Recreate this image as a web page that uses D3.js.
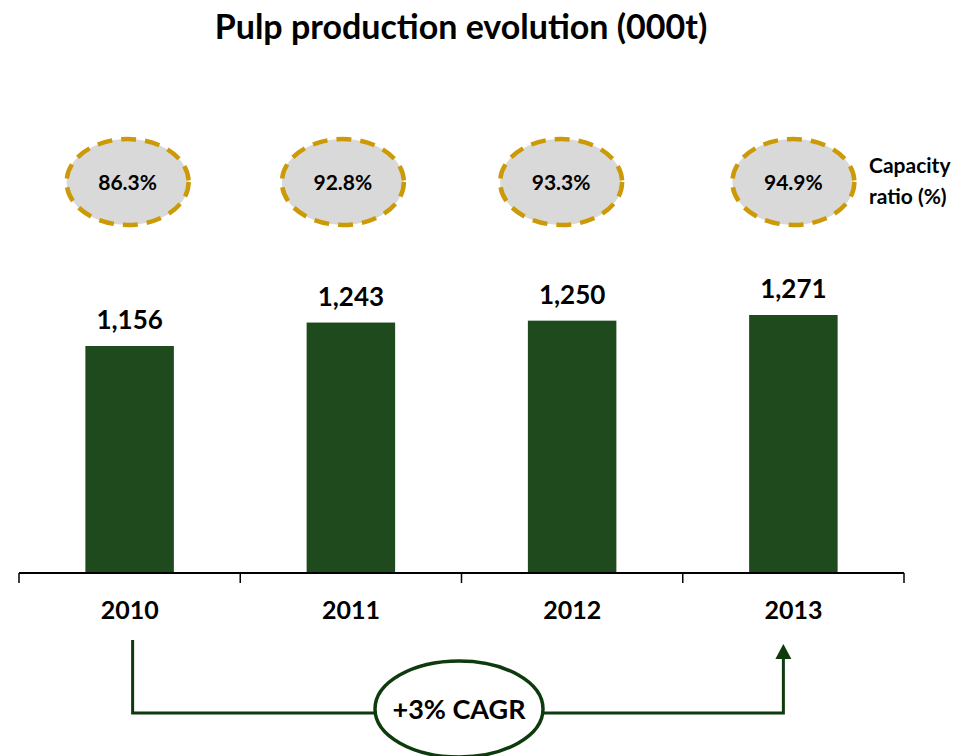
<!DOCTYPE html>
<html>
<head>
<meta charset="utf-8">
<script src="https://cdn.jsdelivr.net/npm/d3@7"></script>
<style>
  body { margin: 0; background: #fff; }
  text { font-family: Lato, "Open Sans", sans-serif; font-weight: bold; fill: #000; }
</style>
</head>
<body>
<script>
'use strict';

const years = ['2010', '2011', '2012', '2013'];
const production = [1156, 1243, 1250, 1271];
const capacityRatio = [86.3, 92.8, 93.3, 94.9];
const cagrLabel = '+3% CAGR';

(function() {
  let width = 969;
  let height = 756;
  let barColor = '#1F4A1E';
  let arrowColor = '#0D3B0D';
  let dashColor = '#CC9A06';

  let svg = d3.select('body')
    .append('svg')
    .attr('width', width)
    .attr('height', height);

  let xScale = d3.scaleBand()
    .domain(years)
    .range([19, 904])
    .paddingInner(0.6)
    .paddingOuter(0.3);
  // band boundaries for axis ticks
  let step = xScale.step();
  let axisLeft = 19;
  let center = d => xScale(d) + xScale.bandwidth() / 2;

  let yScale = d3.scaleLinear()
    .domain([314, 1271])
    .range([573, 315]);

  // title
  svg.append('text')
    .attr('x', 461)
    .attr('y', 39)
    .attr('text-anchor', 'middle')
    .style('font-size', '34px')
    .text('Pulp production evolution (000t)');

  // bars
  svg.selectAll('.bar')
    .data(years)
    .enter()
    .append('rect')
    .attr('class', 'bar')
    .attr('x', d => xScale(d))
    .attr('y', (d, i) => yScale(production[i]))
    .attr('width', xScale.bandwidth())
    .attr('height', (d, i) => yScale.range()[0] - yScale(production[i]))
    .attr('fill', barColor);

  svg.selectAll('.val')
    .data(years)
    .enter()
    .append('text')
    .attr('class', 'val')
    .attr('x', d => center(d))
    .attr('y', (d, i) => yScale(production[i]) - 17)
    .attr('text-anchor', 'middle')
    .style('font-size', '26px')
    .text((d, i) => d3.format(',')(production[i]));

  // x axis
  let xAxis = d3.axisBottom(xScale).tickSize(0).tickPadding(28);
  let gx = svg.append('g')
    .attr('transform', 'translate(0,573)')
    .call(xAxis);
  gx.select('.domain').remove();
  gx.selectAll('text')
    .style('font-size', '25px')
    .style('font-family', 'Lato, sans-serif')
    .attr('fill', '#000');
  gx.append('line')
    .attr('x1', axisLeft).attr('x2', axisLeft + step * years.length)
    .attr('stroke', '#000').attr('stroke-width', 2);
  gx.selectAll('.tickmark')
    .data(d3.range(years.length + 1))
    .enter()
    .append('line')
    .attr('x1', i => axisLeft + i * step)
    .attr('x2', i => axisLeft + i * step)
    .attr('y1', 0).attr('y2', 10)
    .attr('stroke', '#000').attr('stroke-width', 1.5);

  // capacity ratio bubbles
  let bubbleShift = [-2, -8, -11, 0];
  let bubbles = svg.selectAll('.bubble')
    .data(years)
    .enter()
    .append('g')
    .attr('class', 'bubble')
    .attr('transform', (d, i) => 'translate(' + (center(d) + bubbleShift[i]) + ',182)');
  bubbles.append('ellipse')
    .attr('rx', 61)
    .attr('ry', 43)
    .attr('fill', '#D9D9D9')
    .attr('stroke', dashColor)
    .attr('stroke-width', 4.5)
    .attr('stroke-dasharray', '15 9');
  bubbles.append('text')
    .attr('y', 8)
    .attr('text-anchor', 'middle')
    .style('font-size', '21px')
    .text((d, i) => capacityRatio[i].toFixed(1) + '%');

  svg.append('text')
    .attr('x', 869)
    .attr('y', 173)
    .style('font-size', '21px')
    .text('Capacity');
  svg.append('text')
    .attr('x', 869)
    .attr('y', 204)
    .style('font-size', '21px')
    .text('ratio (%)');

  // CAGR arrow
  let x0 = center(years[0]) + 3;
  let x1 = center(years[years.length - 1]) - 10;
  svg.append('path')
    .attr('d', 'M' + x0 + ',640 V713 H' + x1 + ' V656')
    .attr('fill', 'none')
    .attr('stroke', arrowColor)
    .attr('stroke-width', 3);
  svg.append('path')
    .attr('d', 'M' + (x1 - 8) + ',659 L' + x1 + ',644 L' + (x1 + 8) + ',659 Z')
    .attr('fill', arrowColor);

  svg.append('ellipse')
    .attr('cx', 459)
    .attr('cy', 709)
    .attr('rx', 84)
    .attr('ry', 48)
    .attr('fill', '#fff')
    .attr('stroke', arrowColor)
    .attr('stroke-width', 3.5);
  svg.append('text')
    .attr('x', 459)
    .attr('y', 719)
    .attr('text-anchor', 'middle')
    .style('font-size', '27px')
    .text(cagrLabel);
})();
</script>
</body>
</html>
